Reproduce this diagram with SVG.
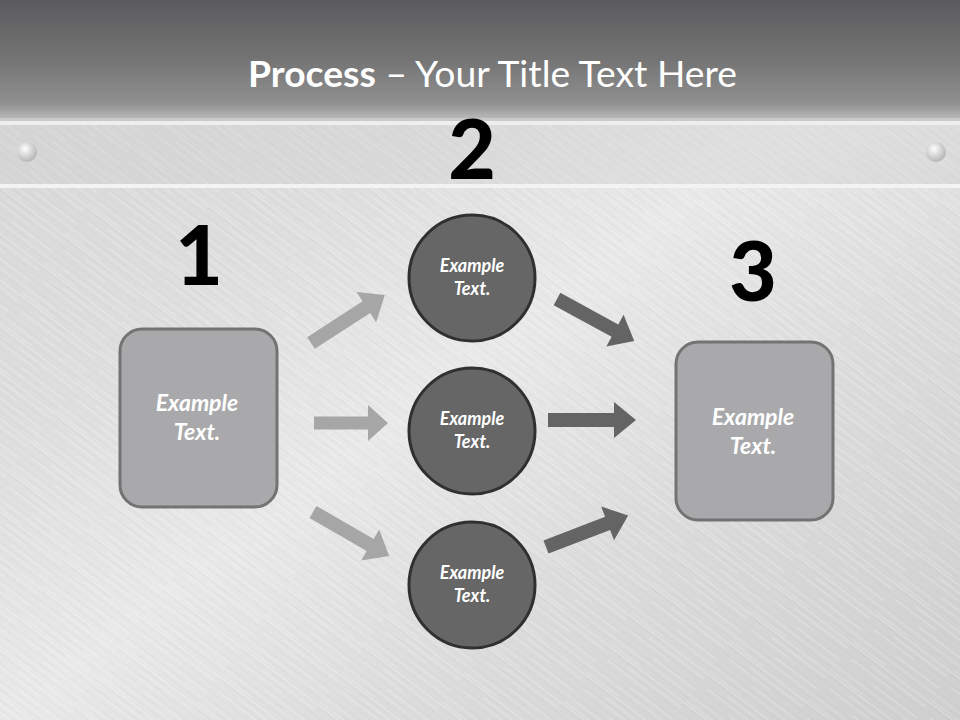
<svg xmlns="http://www.w3.org/2000/svg" width="960" height="720" viewBox="0 0 960 720">
  <defs>
    <linearGradient id="topBand" x1="0" y1="0" x2="0" y2="1">
      <stop offset="0" stop-color="#5b5b5d"/>
      <stop offset="0.5" stop-color="#747475"/>
      <stop offset="0.88" stop-color="#909091"/>
      <stop offset="1" stop-color="#b8b8b8"/>
    </linearGradient>
    <linearGradient id="metal" x1="0" y1="0" x2="1" y2="1">
      <stop offset="0" stop-color="#d6d6d6"/>
      <stop offset="0.3" stop-color="#dedede"/>
      <stop offset="0.5" stop-color="#e9e9e9"/>
      <stop offset="0.7" stop-color="#dcdcdc"/>
      <stop offset="1" stop-color="#cfcfcf"/>
    </linearGradient>
    <pattern id="brush" width="97" height="37" patternUnits="userSpaceOnUse" patternTransform="rotate(37)">
      <rect x="0" y="1" width="97" height="0.8" fill="#ffffff" opacity="0.35"/>
      <rect x="0" y="3.5" width="60" height="0.6" fill="#b0b0b0" opacity="0.25"/>
      <rect x="30" y="7" width="67" height="1" fill="#ffffff" opacity="0.3"/>
      <rect x="0" y="11" width="97" height="0.6" fill="#a8a8a8" opacity="0.2"/>
      <rect x="10" y="13.5" width="50" height="0.7" fill="#ffffff" opacity="0.4"/>
      <rect x="0" y="18" width="97" height="0.5" fill="#b5b5b5" opacity="0.25"/>
      <rect x="45" y="21" width="52" height="1.2" fill="#ffffff" opacity="0.25"/>
      <rect x="0" y="25" width="70" height="0.6" fill="#aaaaaa" opacity="0.2"/>
      <rect x="0" y="28.5" width="97" height="0.8" fill="#ffffff" opacity="0.3"/>
      <rect x="20" y="32" width="77" height="0.5" fill="#b0b0b0" opacity="0.25"/>
      <rect x="0" y="35" width="40" height="0.7" fill="#ffffff" opacity="0.3"/>
    </pattern>
    <radialGradient id="rivet" cx="0.4" cy="0.35" r="0.7">
      <stop offset="0" stop-color="#ffffff"/>
      <stop offset="0.45" stop-color="#dadada"/>
      <stop offset="1" stop-color="#b0b0b0"/>
    </radialGradient>
    <path id="arLong" d="M0,-7 L66,-7 L66,-18 L88,0 L66,18 L66,7 L0,7Z"/>
    <path id="arShort" d="M0,-6.5 L54,-6.5 L54,-18 L74,0 L54,18 L54,6.5 L0,6.5Z"/>
  </defs>
  <style>
    .title { font-family: Lato, "Open Sans", "Liberation Sans", sans-serif; font-size: 36px; fill: #ffffff; }
    .num { font-family: Lato, "Open Sans", "Liberation Sans", sans-serif; font-size: 82px; font-weight: 900; fill: #000000; text-anchor: middle; }
    .box { fill: #a9a9ab; stroke: #737373; stroke-width: 3; }
    .circ { fill: #666666; stroke: #303030; stroke-width: 3; }
    .boxText { font-family: Lato, "Open Sans", "Liberation Sans", sans-serif; font-size: 23px; font-weight: bold; font-style: italic; fill: #ffffff; text-anchor: middle; }
    .circText { font-family: Lato, "Open Sans", "Liberation Sans", sans-serif; font-size: 18px; font-weight: bold; font-style: italic; fill: #ffffff; text-anchor: middle; }
    .arLight { fill: #a6a6a6; }
    .arDark { fill: #646464; }
  </style>

  <!-- background -->
  <rect x="0" y="0" width="960" height="720" fill="url(#metal)"/>
  <rect x="0" y="0" width="960" height="720" fill="url(#brush)"/>
  <rect x="0" y="0" width="960" height="118" fill="url(#topBand)"/>
  <rect x="0" y="118" width="960" height="3" fill="#c9c9c9"/>
  <rect x="0" y="121" width="960" height="4" fill="#eeeeee"/>
  <rect x="0" y="125" width="960" height="59" fill="#cfcfcf" opacity="0.35"/>
  <rect x="0" y="184" width="960" height="4" fill="#f3f3f3"/>
  <circle cx="27" cy="152" r="10" fill="url(#rivet)"/>
  <circle cx="936" cy="152" r="10" fill="url(#rivet)"/>

  <text class="title" x="248" y="87" textLength="489" lengthAdjust="spacingAndGlyphs"><tspan font-weight="bold">Process</tspan> – Your Title Text Here</text>

  <g id="connectors">
    <use href="#arLong" class="arLight" transform="translate(311,343) rotate(-33)"/>
    <use href="#arShort" class="arLight" transform="translate(314,423)"/>
    <use href="#arLong" class="arLight" transform="translate(313,512) rotate(30)"/>
    <use href="#arLong" class="arDark" transform="translate(557,299) rotate(28.6)"/>
    <use href="#arLong" class="arDark" transform="translate(548,420)"/>
    <use href="#arLong" class="arDark" transform="translate(546,547) rotate(-21)"/>
  </g>

  <g id="step1">
    <text class="num" x="199" y="285">1</text>
    <rect class="box" x="120" y="329" width="157" height="178" rx="22"/>
    <text class="boxText" x="197" y="411">Example</text>
    <text class="boxText" x="197" y="440">Text.</text>
  </g>

  <g id="step2">
    <text class="num" x="472" y="179">2</text>
  </g>

  <g id="circle-top">
    <circle class="circ" cx="472" cy="278" r="63"/>
    <text class="circText" x="472" y="272">Example</text>
    <text class="circText" x="472" y="295">Text.</text>
  </g>

  <g id="circle-middle">
    <circle class="circ" cx="472" cy="431" r="63"/>
    <text class="circText" x="472" y="425">Example</text>
    <text class="circText" x="472" y="448">Text.</text>
  </g>

  <g id="circle-bottom">
    <circle class="circ" cx="472" cy="585" r="63"/>
    <text class="circText" x="472" y="579">Example</text>
    <text class="circText" x="472" y="602">Text.</text>
  </g>

  <g id="step3">
    <text class="num" x="753" y="301">3</text>
    <rect class="box" x="676" y="342" width="157" height="178" rx="22"/>
    <text class="boxText" x="753" y="425">Example</text>
    <text class="boxText" x="753" y="454">Text.</text>
  </g>
</svg>
